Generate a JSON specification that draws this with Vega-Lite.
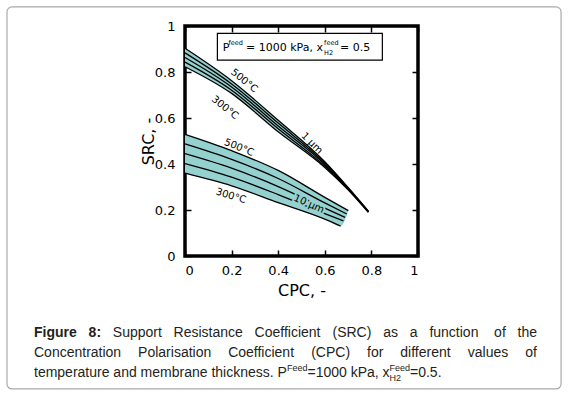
{
  "$schema": "https://vega.github.io/schema/vega-lite/v6.json",
  "width": 233,
  "height": 230,
  "autosize": {"type": "none"},
  "padding": {"left": 185, "top": 26, "right": 150, "bottom": 141},
  "background": "white",
  "config": {
    "view": {"stroke": "black", "strokeWidth": 3.5},
    "axis": {
      "domain": false,
      "grid": false,
      "ticks": true,
      "tickColor": "black",
      "tickWidth": 1.5,
      "tickSize": -6,
      "labelFont": "DejaVu Sans",
      "labelFontSize": 13,
      "labelColor": "black",
      "titleFont": "DejaVu Sans",
      "titleFontSize": 16,
      "titleFontWeight": "normal",
      "titleColor": "black",
      "zindex": 1
    }
  },
  "datasets": {
    "bands": [
      {"band": "1 µm", "x": 0, "top": 0.903, "bottom": 0.823},
      {"band": "1 µm", "x": 0.2, "top": 0.762, "bottom": 0.707},
      {"band": "1 µm", "x": 0.4, "top": 0.59, "bottom": 0.54},
      {"band": "1 µm", "x": 0.6, "top": 0.41, "bottom": 0.385},
      {"band": "1 µm", "x": 0.7, "top": 0.298, "bottom": 0.288},
      {"band": "1 µm", "x": 0.787, "top": 0.195, "bottom": 0.19},
      {"band": "10 µm", "x": 0, "top": 0.529, "bottom": 0.36},
      {"band": "10 µm", "x": 0.2, "top": 0.458, "bottom": 0.305},
      {"band": "10 µm", "x": 0.4, "top": 0.372, "bottom": 0.232},
      {"band": "10 µm", "x": 0.6, "top": 0.255, "bottom": 0.16},
      {"band": "10 µm", "x": 0.668, "top": 0.216, "bottom": 0.13},
      {"band": "10 µm", "x": 0.701, "top": 0.197, "bottom": 0.197}
    ],
    "curves": [
      {"curve": "1a", "x": 0, "y": 0.903}, {"curve": "1a", "x": 0.2, "y": 0.762}, {"curve": "1a", "x": 0.4, "y": 0.59}, {"curve": "1a", "x": 0.6, "y": 0.41}, {"curve": "1a", "x": 0.7, "y": 0.298}, {"curve": "1a", "x": 0.787, "y": 0.195},
      {"curve": "1b", "x": 0, "y": 0.883}, {"curve": "1b", "x": 0.2, "y": 0.748}, {"curve": "1b", "x": 0.4, "y": 0.578}, {"curve": "1b", "x": 0.6, "y": 0.404}, {"curve": "1b", "x": 0.7, "y": 0.296}, {"curve": "1b", "x": 0.787, "y": 0.194},
      {"curve": "1c", "x": 0, "y": 0.863}, {"curve": "1c", "x": 0.2, "y": 0.735}, {"curve": "1c", "x": 0.4, "y": 0.565}, {"curve": "1c", "x": 0.6, "y": 0.398}, {"curve": "1c", "x": 0.7, "y": 0.293}, {"curve": "1c", "x": 0.787, "y": 0.193},
      {"curve": "1d", "x": 0, "y": 0.843}, {"curve": "1d", "x": 0.2, "y": 0.721}, {"curve": "1d", "x": 0.4, "y": 0.553}, {"curve": "1d", "x": 0.6, "y": 0.391}, {"curve": "1d", "x": 0.7, "y": 0.291}, {"curve": "1d", "x": 0.787, "y": 0.191},
      {"curve": "1e", "x": 0, "y": 0.823}, {"curve": "1e", "x": 0.2, "y": 0.707}, {"curve": "1e", "x": 0.4, "y": 0.54}, {"curve": "1e", "x": 0.6, "y": 0.385}, {"curve": "1e", "x": 0.7, "y": 0.288}, {"curve": "1e", "x": 0.787, "y": 0.19},
      {"curve": "10a", "x": 0, "y": 0.529}, {"curve": "10a", "x": 0.2, "y": 0.458}, {"curve": "10a", "x": 0.4, "y": 0.372}, {"curve": "10a", "x": 0.6, "y": 0.255}, {"curve": "10a", "x": 0.701, "y": 0.197},
      {"curve": "10b", "x": 0, "y": 0.487}, {"curve": "10b", "x": 0.2, "y": 0.42}, {"curve": "10b", "x": 0.4, "y": 0.337}, {"curve": "10b", "x": 0.6, "y": 0.231}, {"curve": "10b", "x": 0.694, "y": 0.183},
      {"curve": "10c", "x": 0, "y": 0.445}, {"curve": "10c", "x": 0.2, "y": 0.382}, {"curve": "10c", "x": 0.4, "y": 0.302}, {"curve": "10c", "x": 0.6, "y": 0.208}, {"curve": "10c", "x": 0.687, "y": 0.168},
      {"curve": "10d", "x": 0, "y": 0.402}, {"curve": "10d", "x": 0.2, "y": 0.343}, {"curve": "10d", "x": 0.4, "y": 0.267}, {"curve": "10d", "x": 0.6, "y": 0.184}, {"curve": "10d", "x": 0.68, "y": 0.153},
      {"curve": "10e", "x": 0, "y": 0.36}, {"curve": "10e", "x": 0.2, "y": 0.305}, {"curve": "10e", "x": 0.4, "y": 0.232}, {"curve": "10e", "x": 0.6, "y": 0.16}, {"curve": "10e", "x": 0.668, "y": 0.13}
    ],
    "captionBold": [
      {"t": "Figure", "x": -0.6481, "y": -0.352},
      {"t": "8:", "x": -0.4137, "y": -0.352}
    ],
    "caption": [
      {"t": "Support", "x": -0.3099, "y": -0.352},
      {"t": "Resistance", "x": -0.0489, "y": -0.352},
      {"t": "Coefficient", "x": 0.2987, "y": -0.352},
      {"t": "(SRC)", "x": 0.633, "y": -0.352},
      {"t": "as", "x": 0.8506, "y": -0.352},
      {"t": "a", "x": 0.9648, "y": -0.352},
      {"t": "function", "x": 1.0489, "y": -0.352},
      {"t": "of", "x": 1.3266, "y": -0.352},
      {"t": "the", "x": 1.4275, "y": -0.352},
      {"t": "Concentration", "x": -0.6481, "y": -0.439},
      {"t": "Polarisation", "x": -0.2013, "y": -0.439},
      {"t": "Coefficient", "x": 0.1852, "y": -0.439},
      {"t": "(CPC)", "x": 0.5416, "y": -0.439},
      {"t": "for", "x": 0.7813, "y": -0.439},
      {"t": "different", "x": 0.924, "y": -0.439},
      {"t": "values", "x": 1.2139, "y": -0.439},
      {"t": "of", "x": 1.4605, "y": -0.439},
      {"t": "temperature and membrane thickness. P", "x": -0.6481, "y": -0.526},
      {"t": "=1000 kPa, x", "x": 0.5258, "y": -0.526},
      {"t": "=0.5.", "x": 0.9657, "y": -0.526}
    ],
    "captionSmall": [
      {"t": "Feed", "x": 0.4378, "y": -0.5},
      {"t": "H2", "x": 0.8781, "y": -0.543},
      {"t": "Feed", "x": 0.8781, "y": -0.5}
    ]
  },
  "layer": [
    {
      "data": {"values": [{"x": -0.764, "x2": 1.614, "y": 1.083, "y2": -0.578}]},
      "mark": {"type": "rect", "fill": "transparent", "stroke": "#aaaaaa", "strokeWidth": 1.2, "cornerRadius": 5},
      "encoding": {
        "x": {"field": "x", "type": "quantitative", "scale": {"domain": [0, 1], "nice": false}, "axis": null},
        "x2": {"field": "x2"},
        "y": {"field": "y", "type": "quantitative", "scale": {"domain": [0, 1], "nice": false}, "axis": null},
        "y2": {"field": "y2"}
      }
    },
    {
      "data": {"name": "bands"},
      "mark": {"type": "area", "color": "#94D1CF", "opacity": 1, "interpolate": "monotone"},
      "encoding": {
        "x": {"field": "x", "type": "quantitative", "axis": {"orient": "top", "values": [0, 0.2, 0.4, 0.6, 0.8, 1], "labels": false, "title": null}},
        "y": {"field": "top", "type": "quantitative", "axis": {"orient": "right", "values": [0, 0.2, 0.4, 0.6, 0.8, 1], "labels": false, "title": null}},
        "y2": {"field": "bottom"},
        "detail": {"field": "band"}
      }
    },
    {
      "data": {"name": "curves"},
      "mark": {"type": "line", "color": "black", "strokeWidth": 1.3, "interpolate": "monotone"},
      "encoding": {
        "x": {"field": "x", "type": "quantitative", "axis": {"orient": "bottom", "values": [0, 0.2, 0.4, 0.6, 0.8, 1], "labelExpr": "datum.value == 0 ? '0' : datum.value == 1 ? '1' : format(datum.value, '.1f')", "title": "CPC, -", "labelPadding": 14, "titlePadding": 5}},
        "y": {"field": "y", "type": "quantitative", "axis": {"orient": "left", "values": [0, 0.2, 0.4, 0.6, 0.8, 1], "labelExpr": "datum.value == 0 ? '0' : datum.value == 1 ? '1' : format(datum.value, '.1f')", "title": "SRC, -", "labelPadding": 16, "titlePadding": -2}},
        "detail": {"field": "curve"}
      }
    },
    {
      "data": {"values": [{"x": 0.139, "x2": 0.847, "y": 0.968, "y2": 0.852}]},
      "mark": {"type": "rect", "fill": "white", "stroke": "black", "strokeWidth": 1.2},
      "encoding": {
        "x": {"field": "x", "type": "quantitative", "axis": null},
        "x2": {"field": "x2"},
        "y": {"field": "y", "type": "quantitative", "axis": null},
        "y2": {"field": "y2"}
      }
    },
    {
      "data": {"values": [
        {"t": "P", "x": 0.1618, "y": 0.8926},
        {"t": "= 1000 kPa, x", "x": 0.2618, "y": 0.8926},
        {"t": "= 0.5", "x": 0.665, "y": 0.8926}
      ]},
      "mark": {"type": "text", "font": "DejaVu Sans", "fontSize": 11, "align": "left", "baseline": "alphabetic", "color": "black"},
      "encoding": {
        "x": {"field": "x", "type": "quantitative", "axis": null},
        "y": {"field": "y", "type": "quantitative", "axis": null},
        "text": {"field": "t"}
      }
    },
    {
      "data": {"values": [
        {"t": "feed", "x": 0.1867, "y": 0.917},
        {"t": "feed", "x": 0.597, "y": 0.917},
        {"t": "H2", "x": 0.597, "y": 0.874}
      ]},
      "mark": {"type": "text", "font": "DejaVu Sans", "fontSize": 6.5, "align": "left", "baseline": "alphabetic", "color": "black"},
      "encoding": {
        "x": {"field": "x", "type": "quantitative", "axis": null},
        "y": {"field": "y", "type": "quantitative", "axis": null},
        "text": {"field": "t"}
      }
    },
    {
      "data": {"values": [{"t": "500°C", "x": 0.254, "y": 0.762}, {"t": "300°C", "x": 0.172, "y": 0.645}]},
      "mark": {"type": "text", "font": "DejaVu Sans", "fontSize": 10, "angle": 39, "align": "center", "baseline": "middle", "color": "black"},
      "encoding": {
        "x": {"field": "x", "type": "quantitative", "axis": null},
        "y": {"field": "y", "type": "quantitative", "axis": null},
        "text": {"field": "t"}
      }
    },
    {
      "data": {"values": [{"t": "1 µm", "x": 0.545, "y": 0.49}]},
      "mark": {"type": "text", "font": "DejaVu Sans", "fontSize": 10, "angle": 45, "align": "center", "baseline": "middle", "color": "black"},
      "encoding": {
        "x": {"field": "x", "type": "quantitative", "axis": null},
        "y": {"field": "y", "type": "quantitative", "axis": null},
        "text": {"field": "t"}
      }
    },
    {
      "data": {"values": [{"t": "500°C", "x": 0.232, "y": 0.472}]},
      "mark": {"type": "text", "font": "DejaVu Sans", "fontSize": 10, "angle": 22, "align": "center", "baseline": "middle", "color": "black"},
      "encoding": {
        "x": {"field": "x", "type": "quantitative", "axis": null},
        "y": {"field": "y", "type": "quantitative", "axis": null},
        "text": {"field": "t"}
      }
    },
    {
      "data": {"values": [{"t": "300°C", "x": 0.197, "y": 0.261}]},
      "mark": {"type": "text", "font": "DejaVu Sans", "fontSize": 10, "angle": 17, "align": "center", "baseline": "middle", "color": "black"},
      "encoding": {
        "x": {"field": "x", "type": "quantitative", "axis": null},
        "y": {"field": "y", "type": "quantitative", "axis": null},
        "text": {"field": "t"}
      }
    },
    {
      "data": {"values": [{"t": "10 µm", "x": 0.532, "y": 0.226}]},
      "mark": {"type": "text", "font": "DejaVu Sans", "fontSize": 10, "angle": 24, "align": "center", "baseline": "middle", "color": "#94D1CF", "stroke": "#94D1CF", "strokeWidth": 4},
      "encoding": {
        "x": {"field": "x", "type": "quantitative", "axis": null},
        "y": {"field": "y", "type": "quantitative", "axis": null},
        "text": {"field": "t"}
      }
    },
    {
      "data": {"values": [{"t": "10 µm", "x": 0.532, "y": 0.226}]},
      "mark": {"type": "text", "font": "DejaVu Sans", "fontSize": 10, "angle": 24, "align": "center", "baseline": "middle", "color": "black"},
      "encoding": {
        "x": {"field": "x", "type": "quantitative", "axis": null},
        "y": {"field": "y", "type": "quantitative", "axis": null},
        "text": {"field": "t"}
      }
    },
    {
      "data": {"name": "captionBold"},
      "mark": {"type": "text", "font": "Liberation Sans", "fontSize": 14, "fontWeight": "bold", "align": "left", "baseline": "alphabetic", "color": "#231f20"},
      "encoding": {
        "x": {"field": "x", "type": "quantitative", "axis": null},
        "y": {"field": "y", "type": "quantitative", "axis": null},
        "text": {"field": "t"}
      }
    },
    {
      "data": {"name": "caption"},
      "mark": {"type": "text", "font": "Liberation Sans", "fontSize": 14, "align": "left", "baseline": "alphabetic", "color": "#231f20"},
      "encoding": {
        "x": {"field": "x", "type": "quantitative", "axis": null},
        "y": {"field": "y", "type": "quantitative", "axis": null},
        "text": {"field": "t"}
      }
    },
    {
      "data": {"name": "captionSmall"},
      "mark": {"type": "text", "font": "Liberation Sans", "fontSize": 9, "align": "left", "baseline": "alphabetic", "color": "#231f20"},
      "encoding": {
        "x": {"field": "x", "type": "quantitative", "axis": null},
        "y": {"field": "y", "type": "quantitative", "axis": null},
        "text": {"field": "t"}
      }
    }
  ],
  "resolve": {"axis": {"x": "independent", "y": "independent"}}
}
